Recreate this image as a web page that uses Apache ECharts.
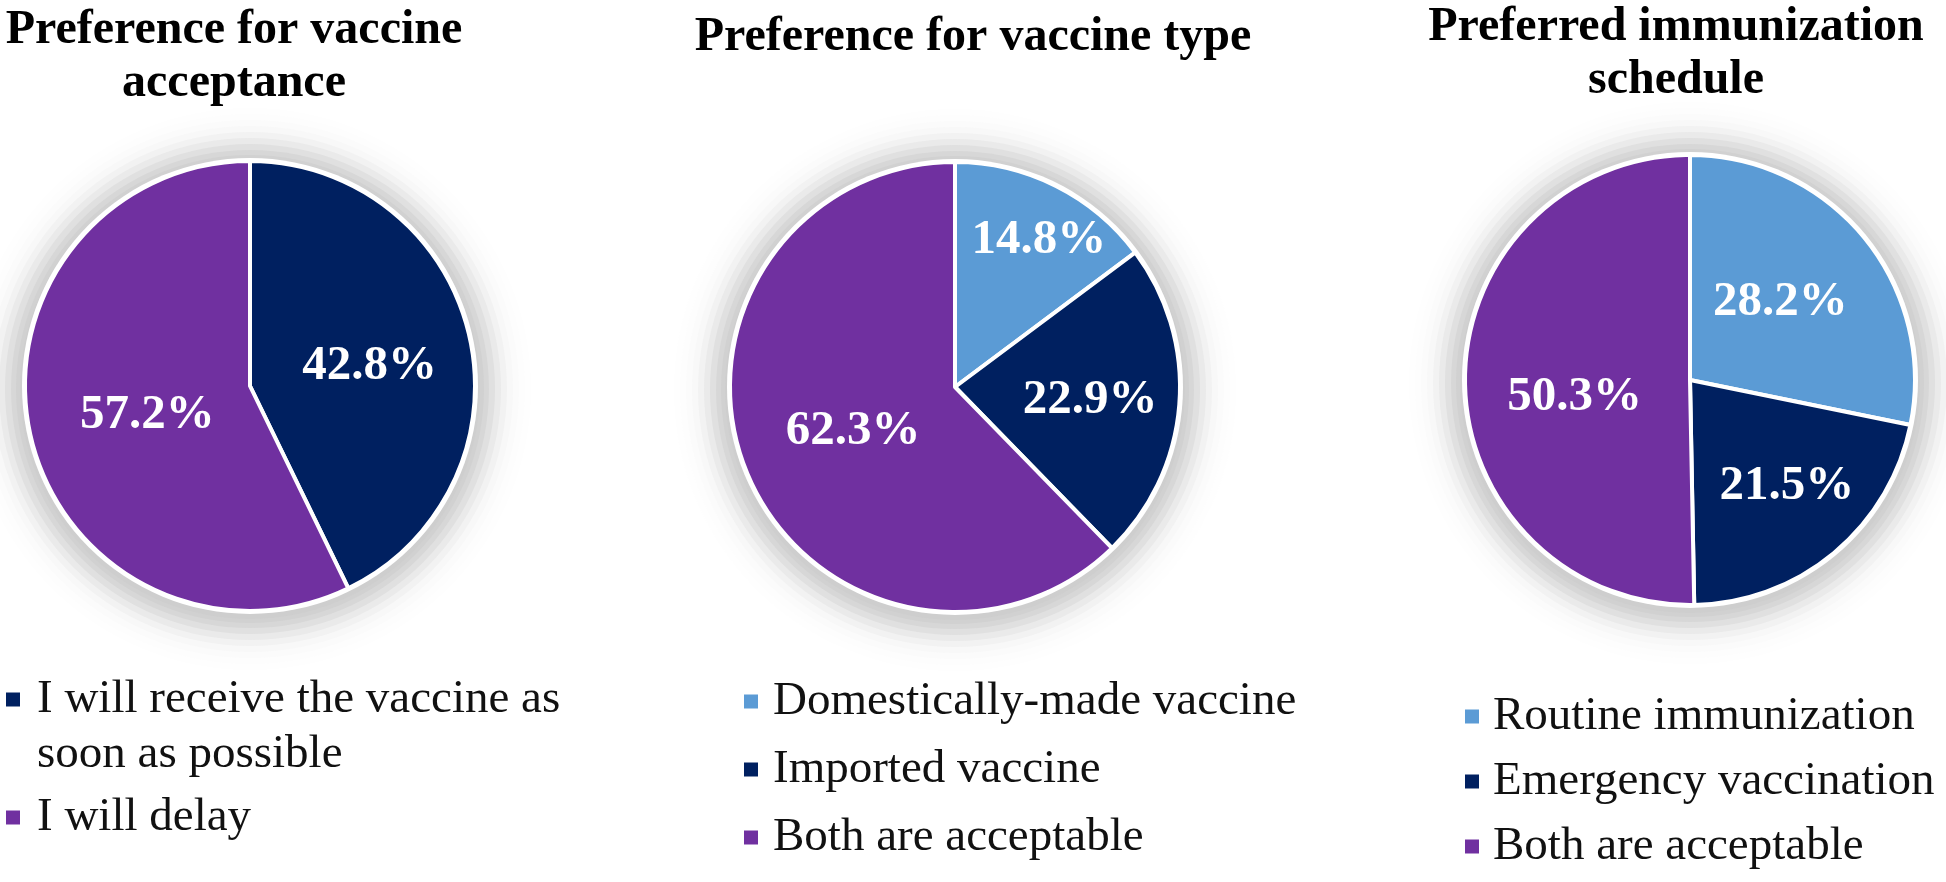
<!DOCTYPE html>
<html>
<head>
<meta charset="utf-8">
<script src="https://cdn.jsdelivr.net/npm/echarts@6/dist/echarts.min.js"></script>
<style>
  html, body { margin: 0; padding: 0; background: #fff; }
  #chart { width: 1946px; height: 882px; }
</style>
</head>
<body>
<div id="chart"></div>
<script>
// ---- data ----
const chartTitles = [
  'Preference for vaccine\nacceptance',
  'Preference for vaccine type',
  'Preferred immunization\nschedule'
];
const acceptanceNames = ['I will receive the vaccine as soon as possible', 'I will delay'];
const acceptanceValues = [42.8, 57.2];
const typeNames = ['Domestically-made vaccine', 'Imported vaccine', 'Both are acceptable'];
const typeValues = [14.8, 22.9, 62.3];
const scheduleNames = ['Routine immunization', 'Emergency vaccination', 'Both are acceptable'];
const scheduleValues = [28.2, 21.5, 50.3];

// ---- style ----
const NAVY = '#002060', PURPLE = '#7030A0', LIGHT = '#5B9BD5';
const serif = '"Liberation Serif", "Times New Roman", "DejaVu Serif", serif';
const R = 225;
// halo bands: [extra radius, grey] from outside in (decoration only)
const haloBands = [
  [56, '#fefefe'], [50, '#fdfdfd'], [44, '#fbfbfb'], [38, '#f8f8f8'], [32, '#f2f2f2'],
  [26, '#eaeaea'], [20, '#e0e0e0'], [14, '#d7d7d7'], [9, '#d1d1d1'], [5, '#cecece']
];

const pies = [
  { names: acceptanceNames, values: acceptanceValues, colors: [NAVY, PURPLE], center: [250, 386],
    shifts: { 0: [7, 6], 1: [10, 3] } },
  { names: typeNames, values: typeValues, colors: [LIGHT, NAVY, PURPLE], center: [955, 387],
    shifts: { 0: [32, -43], 1: [20, 4], 2: [5, 1] } },
  { names: scheduleNames, values: scheduleValues, colors: [LIGHT, NAVY, PURPLE], center: [1690, 380],
    shifts: { 0: [1, -5], 1: [23, 18], 2: [0, 16] } }
];

function discSeries(center, radius, color, z) {
  return {
    type: 'pie', silent: true, center: center, radius: radius, z: z,
    animation: false, label: { show: false }, labelLine: { show: false }, emphasis: { disabled: true },
    tooltip: { show: false }, legendHoverLink: false,
    itemStyle: { color: color, borderWidth: 0, opacity: 1 },
    data: [{ name: '', value: 1 }]
  };
}

const series = [];
pies.forEach(function (p) {
  haloBands.forEach(function (b, k) {
    series.push(discSeries([p.center[0], p.center[1] + 3], R + b[0], b[1], k * 0.01));
  });
  series.push(discSeries(p.center, R + 3, '#ffffff', 0.5));
  const shifts = p.shifts;
  series.push({
    type: 'pie', center: p.center, radius: R, z: 2,
    startAngle: 90, clockwise: true, animation: false,
    itemStyle: { borderColor: '#ffffff', borderWidth: 4 },
    label: {
      show: true, position: 'inside',
      formatter: function (d) { return d.value.toFixed(1) + '%'; },
      color: '#ffffff', fontFamily: serif, fontWeight: 'bold', fontSize: 49
    },
    labelLayout: function (params) {
      const s = shifts[params.dataIndex];
      return s ? { dx: s[0], dy: s[1] } : {};
    },
    emphasis: { disabled: true },
    data: p.names.map(function (n, i) {
      return { name: n, value: p.values[i], itemStyle: { color: p.colors[i] } };
    })
  });
});

const titleStyle = { fontFamily: serif, fontWeight: 'bold', fontSize: 48, lineHeight: 53, color: '#000' };
const legendText = { fontFamily: serif, fontSize: 47, lineHeight: 55, color: '#111', padding: [0, 0, 0, 9] };

const option = {
  backgroundColor: '#ffffff',
  animation: false,
  title: [
    { text: chartTitles[0], left: 234, top: 4, textAlign: 'center', padding: 0, textStyle: titleStyle },
    { text: chartTitles[1], left: 973, top: 11, textAlign: 'center', padding: 0, textStyle: titleStyle },
    { text: chartTitles[2], left: 1676, top: 1, textAlign: 'center', padding: 0, textStyle: titleStyle }
  ],
  legend: [
    {
      data: acceptanceNames,
      orient: 'vertical', left: 4, top: 617, padding: 0, itemGap: 8,
      icon: 'rect', itemWidth: 16, itemHeight: 16, selectedMode: false,
      // wrap the long entry; a leading empty row keeps the marker level with its first line
      formatter: function (n) {
        return n.indexOf('vaccine as ') >= 0 ? '\n' + n.replace('vaccine as ', 'vaccine as\n') : n;
      },
      textStyle: Object.assign({}, legendText, { padding: [0, 0, 0, 11] })
    },
    {
      data: typeNames, orient: 'vertical', left: 742, top: 674, padding: 0, itemGap: 13,
      icon: 'rect', itemWidth: 16, itemHeight: 16, selectedMode: false,
      textStyle: legendText
    },
    {
      data: scheduleNames, orient: 'vertical', left: 1463, top: 689, padding: 0, itemGap: 10,
      icon: 'rect', itemWidth: 16, itemHeight: 16, selectedMode: false,
      textStyle: Object.assign({}, legendText, { padding: [0, 0, 0, 8] })
    }
  ],
  series: series
};

const chart = echarts.init(document.getElementById('chart'), null, { renderer: 'canvas' });
chart.setOption(option);
</script>
</body>
</html>
